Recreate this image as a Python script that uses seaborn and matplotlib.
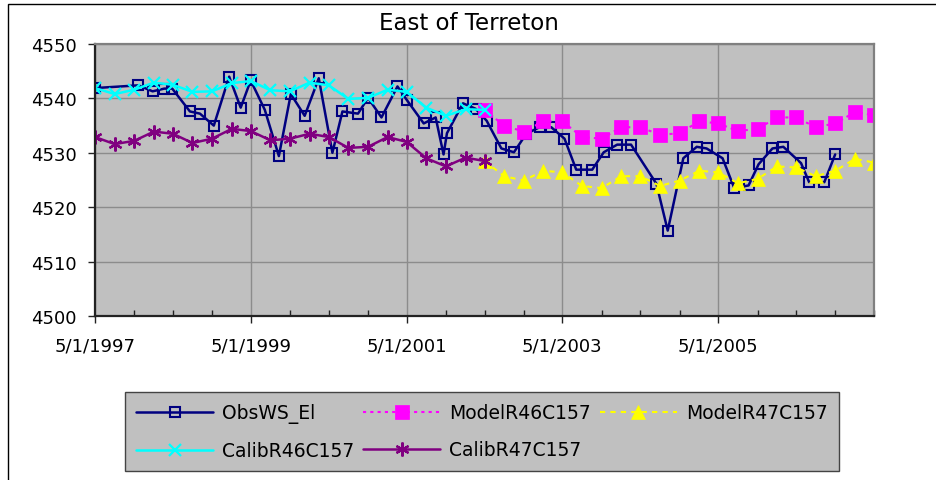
import pandas as pd
import seaborn as sns
import matplotlib.pyplot as plt
import matplotlib.dates as mdates
from matplotlib.ticker import FuncFormatter, FixedLocator
from matplotlib.patches import Rectangle

sns.set_style("white")
plt.rcParams['font.family'] = ['DejaVu Sans']
plt.rcParams['text.color'] = 'black'

title = "East of Terreton"

# observed water surface elevation (irregular dates)
obs_dates = ['1997-05-01', '1997-11-20', '1998-01-26', '1998-03-22', '1998-04-28',
             '1998-07-20', '1998-09-05', '1998-11-09', '1999-01-20', '1999-03-15',
             '1999-05-01', '1999-07-06', '1999-09-10', '1999-11-05', '2000-01-09',
             '2000-03-15', '2000-05-18', '2000-07-04', '2000-09-15', '2000-11-01',
             '2001-01-03', '2001-03-19', '2001-05-02', '2001-07-20', '2001-09-14',
             '2001-10-21', '2001-11-06', '2002-01-20', '2002-03-20', '2002-05-11',
             '2002-07-19', '2002-09-16', '2002-11-13', '2003-01-14', '2003-03-10',
             '2003-05-11', '2003-07-05', '2003-09-18', '2003-11-11', '2004-01-13',
             '2004-03-18', '2004-07-15', '2004-09-06', '2004-11-18', '2005-01-20',
             '2005-03-07', '2005-05-21', '2005-07-15', '2005-09-20', '2005-11-06',
             '2006-01-10', '2006-03-02', '2006-05-24', '2006-07-01', '2006-09-10',
             '2006-10-31']
obs_elev = [4541.9, 4542.4, 4541.3, 4541.8, 4541.8,
            4537.6, 4537.2, 4535.0, 4544.0, 4538.3,
            4543.3, 4537.9, 4529.4, 4540.8, 4536.8,
            4543.7, 4530.0, 4537.6, 4537.2, 4540.1,
            4536.5, 4542.2, 4539.7, 4535.4, 4536.5,
            4529.7, 4533.6, 4539.1, 4538.1, 4535.9,
            4530.8, 4530.1, 4533.5, 4534.7, 4534.7,
            4532.6, 4526.9, 4526.9, 4530.1, 4531.5,
            4531.5, 4524.3, 4515.7, 4529.0, 4531.1,
            4530.8, 4529.0, 4523.5, 4524.0, 4527.9,
            4530.8, 4531.1, 4528.1, 4524.6, 4524.6,
            4529.7]

# calibration period, quarterly
calib_dates = pd.date_range("1997-05-01", "2002-05-01", freq="3MS")
calib46 = [4541.9, 4540.8, 4541.6, 4542.9, 4542.5, 4541.2, 4541.3, 4542.8, 4543.2, 4541.5,
           4541.3, 4542.9, 4542.4, 4539.9, 4540.1, 4541.6, 4541.2, 4538.3, 4536.8, 4538.0,
           4537.9]
calib47 = [4532.9, 4531.6, 4532.2, 4533.9, 4533.5, 4531.8, 4532.6, 4534.4, 4534.0, 4532.3,
           4532.6, 4533.5, 4532.9, 4530.9, 4531.1, 4532.9, 4532.0, 4529.0, 4527.5, 4529.1,
           4528.5]

# model run, quarterly
model_dates = pd.date_range("2002-05-01", "2007-05-01", freq="3MS")
model46 = [4537.9, 4535.0, 4533.9, 4535.8, 4535.8, 4532.9, 4532.6, 4534.7, 4534.7, 4533.3,
           4533.6, 4535.8, 4535.4, 4534.0, 4534.4, 4536.5, 4536.5, 4534.7, 4535.4, 4537.5,
           4536.9]
model47 = [4528.5, 4525.7, 4524.9, 4526.7, 4526.4, 4523.9, 4523.5, 4525.7, 4525.7, 4523.9,
           4524.9, 4526.7, 4526.4, 4524.4, 4525.2, 4527.5, 4527.3, 4525.7, 4526.7, 4528.9,
           4528.2]

x_ticks = ['5/1/1997', '5/1/1999', '5/1/2001', '5/1/2003', '5/1/2005']
y_ticks = [4500, 4510, 4520, 4530, 4540, 4550]

fig = plt.figure(figsize=(9.37, 4.81), dpi=100)
ax = fig.add_axes([95/937, 1-317/481, 779/937, 272/481])
ax.set_facecolor('#c0c0c0')

sns.lineplot(x=pd.to_datetime(obs_dates), y=obs_elev, ax=ax, color='#000080', lw=1.8,
             marker='s', markersize=6.5, markerfacecolor='none', markeredgecolor='#000080',
             markeredgewidth=1.5, label='ObsWS_El', errorbar=None)
sns.lineplot(x=model_dates, y=model46, ax=ax, color='#ff00ff', lw=1.5, linestyle=(0, (1.5, 2)),
             marker='s', markersize=10, markerfacecolor='#ff00ff', markeredgecolor='#ff00ff',
             markeredgewidth=0.5, label='ModelR46C157', errorbar=None)
sns.lineplot(x=model_dates, y=model47, ax=ax, color='#ffff00', lw=1.5, linestyle=(0, (2.5, 2.5)),
             marker='^', markersize=10.5, markerfacecolor='#ffff00', markeredgecolor='#ffff00',
             markeredgewidth=0.5, label='ModelR47C157', errorbar=None)
sns.lineplot(x=calib_dates, y=calib46, ax=ax, color='#00ffff', lw=1.8,
             marker='x', markersize=9, markeredgecolor='#00ffff', markeredgewidth=1.6,
             label='CalibR46C157', errorbar=None)
sns.lineplot(x=calib_dates, y=calib47, ax=ax, color='#800080', lw=1.8,
             marker=(6, 2, 0), markersize=10, markeredgecolor='#800080', markeredgewidth=1.6,
             label='CalibR47C157', errorbar=None)

ax.set_xlim(pd.Timestamp('1997-05-01'), pd.Timestamp('2007-05-01'))
ax.set_ylim(4500, 4550)
ax.set_yticks(y_ticks)
ax.xaxis.set_major_locator(FixedLocator(mdates.date2num(pd.to_datetime(x_ticks, format='%m/%d/%Y'))))
ax.xaxis.set_major_formatter(FuncFormatter(
    lambda v, p: "{d.month}/{d.day}/{d.year}".format(d=mdates.num2date(v))))
ax.xaxis.set_minor_locator(mdates.MonthLocator(bymonth=[5, 11]))
ax.set_xlabel('')
ax.set_ylabel('')

ax.grid(True, which='major', color='#8c8c8c', lw=1)
ax.set_axisbelow(True)
ax.tick_params(axis='x', which='major', bottom=True, direction='out', length=5, width=1,
               pad=10, labelsize=13, labelcolor='black', color='#222222')
ax.tick_params(axis='x', which='minor', bottom=True, direction='in', length=4, width=1,
               color='#222222')
ax.tick_params(axis='y', left=True, direction='out', length=5, width=1, pad=8,
               labelsize=13, labelcolor='black', color='#222222')
for side in ['left', 'bottom']:
    ax.spines[side].set_color('#222222')
    ax.spines[side].set_linewidth(1.6)
for side in ['top', 'right']:
    ax.spines[side].set_color('#808080')
    ax.spines[side].set_linewidth(1.6)

fig.text(0.5, 1-30/481, title, ha='center', va='baseline', fontsize=16.5, color='black')

# legend: Excel order row by row, matplotlib fills columns first
h, l = ax.get_legend_handles_labels()
ax.get_legend().remove()
order = [0, 3, 1, 4, 2]
leg = fig.legend([h[i] for i in order], [l[i] for i in order], ncol=3,
                 loc='upper left', bbox_to_anchor=(125/937, 1-393/481),
                 bbox_transform=fig.transFigure, borderaxespad=0, fontsize=13.5,
                 handlelength=4.1, handletextpad=0.5, columnspacing=0.45,
                 labelspacing=0.95, borderpad=0.6, fancybox=False, framealpha=1,
                 labelcolor='black')
leg.get_frame().set_facecolor('#c0c0c0')
leg.get_frame().set_edgecolor('#444444')
leg.get_frame().set_linewidth(1)

# chart border
fig.add_artist(Rectangle((8/937, -0.1), 1.1, 1-5/481+0.1, transform=fig.transFigure,
                         fill=False, edgecolor='black', lw=1))

fig.savefig('out.png', dpi=100)
